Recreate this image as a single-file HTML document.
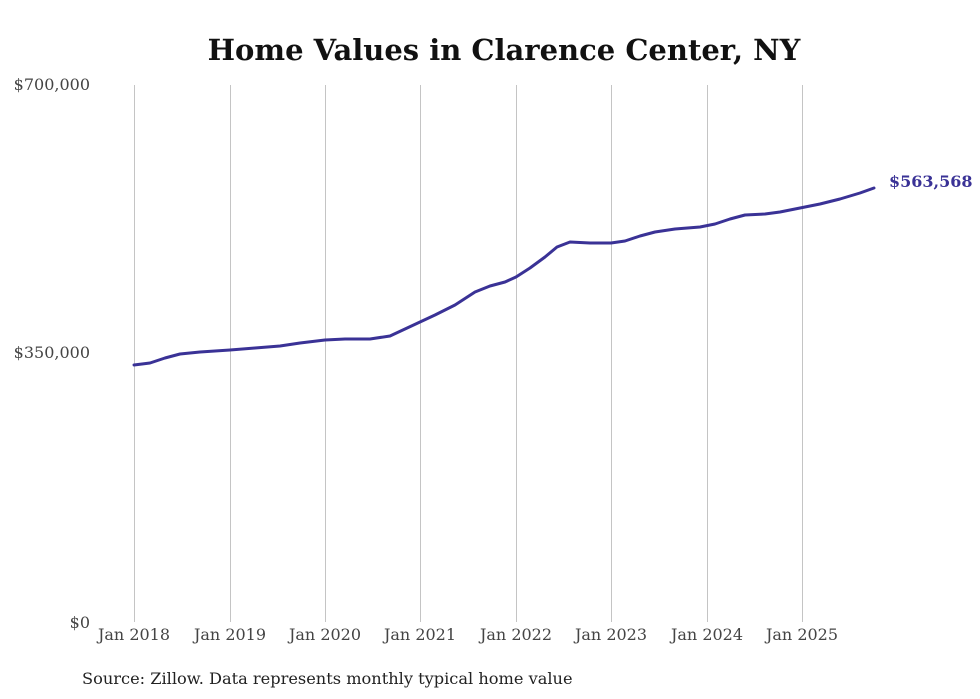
<!DOCTYPE html>
<html><head><meta charset="utf-8"><style>
html,body{margin:0;padding:0;background:#fff;}
svg{display:block;}
text{font-family:"DejaVu Serif","Liberation Serif",serif;}
</style></head><body>
<svg width="980" height="699" viewBox="0 0 980 699" xmlns="http://www.w3.org/2000/svg">
<rect width="980" height="699" fill="#fff"/>
<text x="504" y="60" text-anchor="middle" font-size="29" font-weight="bold" fill="#111">Home Values in Clarence Center, NY</text>
<g stroke="#c4c4c4" stroke-width="1">
<line x1="134.5" y1="85" x2="134.5" y2="622"/>
<line x1="230.5" y1="85" x2="230.5" y2="622"/>
<line x1="325.5" y1="85" x2="325.5" y2="622"/>
<line x1="420.5" y1="85" x2="420.5" y2="622"/>
<line x1="516.5" y1="85" x2="516.5" y2="622"/>
<line x1="611.5" y1="85" x2="611.5" y2="622"/>
<line x1="707.5" y1="85" x2="707.5" y2="622"/>
<line x1="802.5" y1="85" x2="802.5" y2="622"/>
</g>
<g font-size="16" fill="#444" text-anchor="end">
<text x="90" y="90">$700,000</text>
<text x="90" y="358">$350,000</text>
<text x="90" y="628">$0</text>
</g>
<g font-size="16" fill="#444" text-anchor="middle">
<text x="134" y="640">Jan 2018</text>
<text x="230" y="640">Jan 2019</text>
<text x="325" y="640">Jan 2020</text>
<text x="420" y="640">Jan 2021</text>
<text x="516" y="640">Jan 2022</text>
<text x="611" y="640">Jan 2023</text>
<text x="707" y="640">Jan 2024</text>
<text x="802" y="640">Jan 2025</text>
</g>
<polyline fill="none" stroke="#3a3296" stroke-width="3" stroke-linejoin="round" stroke-linecap="round"
points="134,365 150,363 165,358 180,354 200,352 230,350 255,348 280,346 300,343 325,340 345,339 370,339 390,336 405,329 420,322 435,315 455,305 475,292 490,286 505,282 516,277 530,268 545,257 557,247 570,242 590,243 611,243 625,241 640,236 655,232 675,229 700,227 715,224 730,219 745,215 765,214 780,212 800,208 820,204 840,199 860,193 874,188"/>
<text x="889" y="187" font-size="16" font-weight="bold" fill="#3a3296">$563,568</text>
<text x="82" y="684" font-size="16.2" fill="#222">Source: Zillow. Data represents monthly typical home value</text>
</svg>
</body></html>
